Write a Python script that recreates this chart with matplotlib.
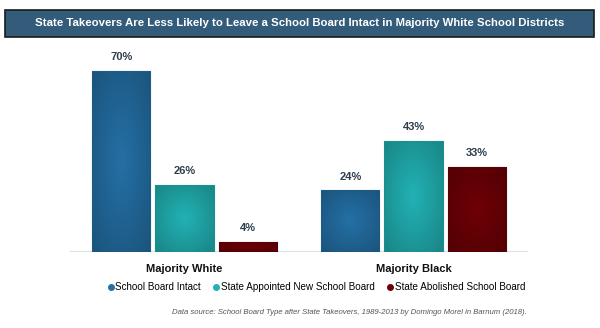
import numpy as np
import matplotlib.pyplot as plt
from matplotlib.patches import Rectangle
from matplotlib.lines import Line2D

plt.rcParams['font.family'] = ['Liberation Sans', 'DejaVu Sans']

groups = ["Majority White", "Majority Black"]
series = ["School Board Intact", "State Appointed New School Board", "State Abolished School Board"]
values = {
    "School Board Intact": [70, 24],
    "State Appointed New School Board": [26, 43],
    "State Abolished School Board": [4, 33],
}
colors = ["#2470a6", "#22b2b4", "#6e0006"]
title = "State Takeovers Are Less Likely to Leave a School Board Intact in Majority White School Districts"
source = "Data source: School Board Type after State Takeovers, 1989-2013 by Domingo Morel in Barnum (2018)."


def shade(hex_color, factor):
    rgb = np.array([int(hex_color[i:i + 2], 16) for i in (1, 3, 5)]) / 255
    return np.clip(rgb * factor, 0, 1)


def gradient_fill(ax, bar, color):
    # radial shading: lighter centre, darker rim
    x0, y0 = bar.get_x(), bar.get_y()
    w, h = bar.get_width(), bar.get_height()
    gx, gy = np.meshgrid(np.linspace(-1, 1, 60), np.linspace(-1, 1, 120))
    r = np.clip(np.sqrt(gx ** 2 + gy ** 2) / 1.4, 0, 1)
    base = shade(color, 1.0)
    dark = shade(color, 0.75)
    img = base[None, None, :] * (1 - r[..., None]) + dark[None, None, :] * r[..., None]
    im = ax.imshow(img, extent=(x0, x0 + w, y0, y0 + h), aspect='auto',
                   interpolation='bilinear', zorder=2)
    im.set_clip_path(bar)


fig = plt.figure(figsize=(6, 3.28), dpi=100)

# title banner
fig.patches.append(Rectangle((5 / 600, 1 - 37 / 328), 589 / 600, 27 / 328,
                             transform=fig.transFigure, facecolor="#325c7a",
                             edgecolor="#1a1a1a", linewidth=1.2, zorder=0))
fig.text(0.5, 1 - 23.5 / 328, title, ha='center', va='center', color='white',
         fontsize=8.2, fontweight='bold')

ax = fig.add_axes([70 / 600, (328 - 252) / 328, 458 / 600, 202 / 328])
x = np.arange(len(groups))
width = 0.254
step = 0.276

for i, (name, color) in enumerate(zip(series, colors)):
    vals = values[name]
    bars = ax.bar(x + (i - 1) * step, vals, width, color=color,
                  edgecolor=shade(color, 0.8), linewidth=0.8, zorder=3)
    for bar, v in zip(bars, vals):
        bar.set_facecolor('none')
        gradient_fill(ax, bar, color)
        ax.text(bar.get_x() + bar.get_width() / 2, v + 3.2, f"{v}%",
                ha='center', va='bottom', fontsize=8, fontweight='bold',
                color="#2e3e4e")

ax.set_xlim(-0.5, 1.5)
ax.set_ylim(0, 78)
ax.axhline(0, color="#d6e2ea", linewidth=1.5, zorder=1)
for side in ax.spines.values():
    side.set_visible(False)
ax.set_yticks([])
ax.set_xticks(x)
ax.set_xticklabels(groups, fontsize=8, fontweight='bold', color="#111111")
ax.tick_params(axis='x', length=0, pad=9)

handles = [Line2D([], [], marker='o', linestyle='', markersize=4,
                  markerfacecolor=c, markeredgecolor=c) for c in colors]
fig.legend(handles, series, loc='center', bbox_to_anchor=(316 / 600, 1 - 287 / 328),
           ncol=3, frameon=False, fontsize=7.1, handletextpad=0.05, columnspacing=1.2,
           handlelength=0.8, borderaxespad=0)

fig.text(527 / 600, 1 - 312 / 328, source, ha='right', va='center',
         fontsize=5.6, style='italic', color="#555555")

fig.savefig("out.png", dpi=100)
